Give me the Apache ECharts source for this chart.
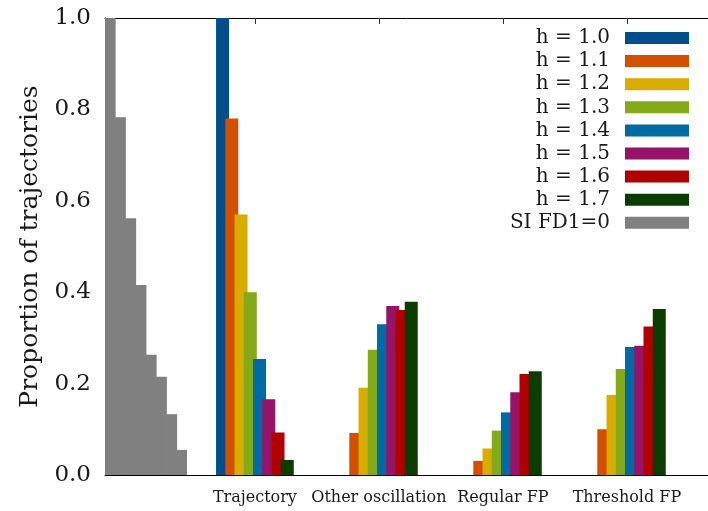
<!DOCTYPE html>
<html>
<head>
<meta charset="utf-8">
<script src="https://cdn.jsdelivr.net/npm/echarts@6/dist/echarts.min.js"></script>
<style>html,body{margin:0;padding:0;background:#fff}#c{width:708px;height:511px}</style>
</head>
<body>
<div id="c"></div>
<script>
const categories = ["Trajectory", "Other oscillation", "Regular FP", "Threshold FP"];
const seriesNames = ["h = 1.0", "h = 1.1", "h = 1.2", "h = 1.3", "h = 1.4", "h = 1.5", "h = 1.6", "h = 1.7"];
const h10 = [1.000, 0.000, 0.000, 0.000];
const h11 = [0.780, 0.092, 0.031, 0.100];
const h12 = [0.570, 0.191, 0.058, 0.175];
const h13 = [0.400, 0.274, 0.097, 0.232];
const h14 = [0.254, 0.330, 0.137, 0.280];
const h15 = [0.166, 0.370, 0.181, 0.283];
const h16 = [0.093, 0.361, 0.221, 0.325];
const h17 = [0.033, 0.379, 0.227, 0.363];
const grayName = "SI FD1=0";
const grayValues = [1.000, 0.783, 0.562, 0.416, 0.263, 0.215, 0.133, 0.055];
const yTicks = [0, 0.2, 0.4, 0.6, 0.8, 1.0];

const hValues = [h10, h11, h12, h13, h14, h15, h16, h17];
const colors = ["#004f8a", "#d25000", "#d8ac00", "#84aa1a", "#006ba3", "#961468", "#b00000", "#0b3d00"];
const grayColor = "#808080";
const FONT = "DejaVu Serif";
const X_MIN = -0.2089, X_MAX = 4.654;

const chart = echarts.init(document.getElementById('c'), null, {renderer: 'canvas'});

const series = hValues.map((vals, si) => ({
  name: seriesNames[si],
  type: 'bar',
  xAxisIndex: 0,
  yAxisIndex: 0,
  barWidth: 13,
  barGap: '-28.9%',
  itemStyle: {color: colors[si]},
  data: vals.map((v, i) => [i + 1, v])
}));
series.push({
  name: grayName,
  type: 'bar',
  xAxisIndex: 2,
  yAxisIndex: 1,
  barCategoryGap: '0%',
  barWidth: 11,
  itemStyle: {color: grayColor},
  data: grayValues
});

chart.setOption({
  animation: false,
  backgroundColor: '#ffffff',
  textStyle: {fontFamily: FONT},
  grid: [
    {left: 105, right: 0, top: 18, bottom: 36},
    {left: 105, width: 82, top: 18, bottom: 36}
  ],
  legend: {
    orient: 'vertical',
    right: 14,
    top: 23,
    align: 'right',
    icon: 'rect',
    itemWidth: 64,
    itemHeight: 12,
    itemGap: 3.1,
    textStyle: {fontFamily: FONT, fontSize: 20, color: '#1a1a1a', lineHeight: 20, padding: [0, 10, 0, 0]},
    data: seriesNames.concat([grayName])
  },
  xAxis: [
    {
      type: 'value', gridIndex: 0, min: X_MIN, max: X_MAX,
      axisLine: {show: true, onZero: false, lineStyle: {color: '#000', width: 1}},
      axisTick: {show: false},
      splitLine: {show: false},
      axisLabel: {
        customValues: [1, 2, 3, 4],
        formatter: v => categories[Math.round(v) - 1] || '',
        fontFamily: FONT, fontSize: 16, color: '#1a1a1a', margin: 15
      }
    },
    {
      type: 'value', gridIndex: 0, position: 'top', min: X_MIN, max: X_MAX,
      axisLine: {show: true, onZero: false, lineStyle: {color: '#000', width: 1}},
      axisTick: {show: true, inside: true, length: 6, customValues: [1, 2, 3, 4], lineStyle: {color: '#333'}},
      axisLabel: {show: false},
      splitLine: {show: false}
    },
    {
      type: 'category', gridIndex: 1,
      data: grayValues.map((_, i) => String(i)),
      show: false
    }
  ],
  yAxis: [
    {
      type: 'value', gridIndex: 0, min: 0, max: 1, interval: 0.2,
      name: 'Proportion of trajectories',
      nameLocation: 'middle',
      nameGap: 62,
      nameTextStyle: {fontFamily: FONT, fontSize: 25, color: '#1a1a1a'},
      axisLine: {show: true, onZero: false, lineStyle: {color: '#000', width: 1}},
      axisTick: {show: false},
      splitLine: {show: false},
      axisLabel: {
        customValues: yTicks,
        formatter: v => v.toFixed(1),
        fontFamily: FONT, fontSize: 23, color: '#1a1a1a', margin: 14
      }
    },
    {
      type: 'value', gridIndex: 1, min: 0, max: 1, show: false
    }
  ],
  series: series
});
</script>
</body>
</html>
